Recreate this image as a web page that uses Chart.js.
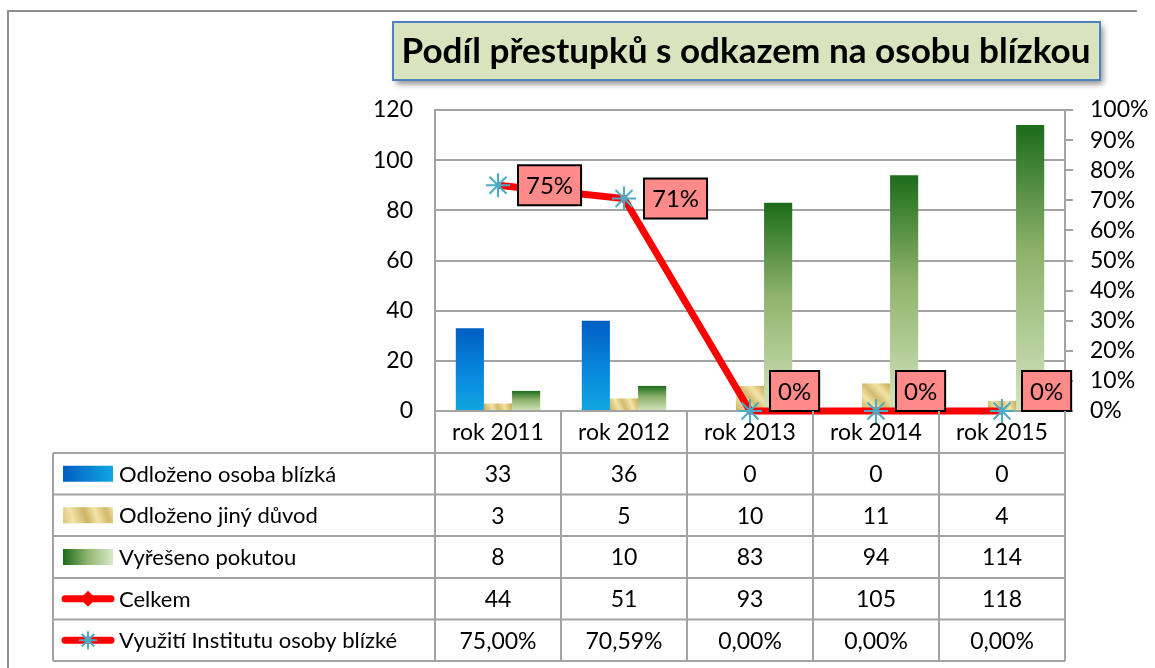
<!DOCTYPE html>
<html lang="cs">
<head>
    <meta charset="UTF-8">
    <title>Podíl přestupků s odkazem na osobu blízkou</title>
    <style>
        body { margin: 0; background: #fff; }
        #chart-container { width: 1155px; height: 668px; }
    </style>
    <script src="https://cdn.jsdelivr.net/npm/chart.js"></script>
</head>
<body>
    <div id="chart-container">
        <canvas id="chart" width="1155" height="668"></canvas>
    </div>

    <script>
        // Data
        const categories = ['rok 2011', 'rok 2012', 'rok 2013', 'rok 2014', 'rok 2015'];
        const seriesNames = ['Odloženo osoba blízká', 'Odloženo jiný důvod', 'Vyřešeno pokutou', 'Celkem', 'Využití Institutu osoby blízké'];
        const odlozenoOsobaBlizka = [33, 36, 0, 0, 0];
        const odlozenoJinyDuvod = [3, 5, 10, 11, 4];
        const vyresenoPokutou = [8, 10, 83, 94, 114];
        const celkem = [44, 51, 93, 105, 118];
        const vyuzitiInstitutu = [0.75, 0.7059, 0, 0, 0];
        const chartTitle = 'Podíl přestupků s odkazem na osobu blízkou';

        const FONT = 'Lato, "Open Sans", sans-serif';
        const GRID = '#a3a3a3';

        // bar fills, built per bar from the scales
        function barGeom(ctx) {
            const chart = ctx.chart;
            const y = chart.scales.y;
            const top = y.getPixelForValue(ctx.raw || 0);
            const base = y.getPixelForValue(0);
            return { top: Math.min(top, base - 1), base: base };
        }
        function blueFill(ctx) {
            if (!ctx.chart.chartArea) return '#0a7fd6';
            const g = barGeom(ctx);
            const gr = ctx.chart.ctx.createLinearGradient(0, g.top, 0, g.base);
            gr.addColorStop(0, '#005ec2');
            gr.addColorStop(0.5, '#0784dc');
            gr.addColorStop(1, '#12a6e2');
            return gr;
        }
        function greenFill(ctx) {
            if (!ctx.chart.chartArea) return '#7aa85a';
            const g = barGeom(ctx);
            const gr = ctx.chart.ctx.createLinearGradient(0, g.top, 0, g.base);
            gr.addColorStop(0, '#1c6b1c');
            gr.addColorStop(0.45, '#8fb36c');
            gr.addColorStop(1, '#d2e3bd');
            return gr;
        }
        function tanFill(ctx) {
            if (!ctx.chart.chartArea) return '#ddc77f';
            const g = barGeom(ctx);
            const cx = ctx.chart.scales.x.getPixelForValue(ctx.dataIndex);
            const gr = ctx.chart.ctx.createLinearGradient(cx - 14, g.base, cx + 14, g.top);
            gr.addColorStop(0, '#c8ab5b');
            gr.addColorStop(0.3, '#f2e4a6');
            gr.addColorStop(0.5, '#d3bb70');
            gr.addColorStop(0.72, '#f2e4a6');
            gr.addColorStop(1, '#c6a855');
            return gr;
        }

        // title box
        const titlePlugin = {
            id: 'titleBox',
            beforeDraw(chart) {
                const c = chart.ctx;
                c.save();
                // outer frame
                c.strokeStyle = '#8f8f8f';
                c.lineWidth = 2;
                c.beginPath();
                c.moveTo(8, 668);
                c.lineTo(8, 11);
                c.lineTo(1137, 11);
                c.stroke();

                c.shadowColor = 'rgba(0,0,0,0.45)';
                c.shadowBlur = 6;
                c.shadowOffsetX = 3;
                c.shadowOffsetY = 4;
                c.fillStyle = '#d7e4bd';
                c.fillRect(393, 22, 707, 58);
                c.shadowColor = 'transparent';
                c.strokeStyle = '#4f81bd';
                c.lineWidth = 2;
                c.strokeRect(393, 22, 707, 58);

                c.font = 'bold 30px ' + FONT;
                const w = c.measureText(chartTitle).width;
                const size = 30 * 689 / w;
                c.font = 'bold ' + size.toFixed(1) + 'px ' + FONT;
                c.fillStyle = '#000';
                c.textAlign = 'center';
                c.textBaseline = 'middle';
                c.fillText(chartTitle, 746, 52);
                c.restore();
            }
        };

        // pink value labels next to the line points
        const valueLabels = {
            id: 'valueLabels',
            afterDatasetsDraw(chart) {
                const c = chart.ctx;
                const meta = chart.getDatasetMeta(0);
                const bottom = chart.chartArea.bottom;
                c.save();
                c.font = '24px ' + FONT;
                c.textAlign = 'center';
                c.textBaseline = 'middle';
                meta.data.forEach((pt, i) => {
                    const txt = Math.round(vyuzitiInstitutu[i] * 100) + '%';
                    const w = c.measureText(txt).width + 16;
                    const h = 40;
                    const x = pt.x + 20;
                    const cy = Math.min(pt.y, bottom - h / 2);
                    c.fillStyle = '#ff8a8a';
                    c.fillRect(x, cy - h / 2, w, h);
                    c.strokeStyle = '#000';
                    c.lineWidth = 2;
                    c.strokeRect(x, cy - h / 2, w, h);
                    c.fillStyle = '#000';
                    c.fillText(txt, x + w / 2, cy + 1);
                });
                c.restore();
            }
        };

        // data table under the plot
        const dataTable = {
            id: 'dataTable',
            afterDraw(chart) {
                const c = chart.ctx;
                const area = chart.chartArea;
                const xs = chart.scales.x;
                const n = categories.length;
                const colW = (area.right - area.left) / n;
                const rows = [area.bottom, 453, 494.5, 536, 578, 619.5, 661];
                const tableLeft = 53;
                const values = [odlozenoOsobaBlizka, odlozenoJinyDuvod, vyresenoPokutou, celkem,
                    vyuzitiInstitutu.map(v => (v * 100).toFixed(2).replace('.', ',') + '%')];

                c.save();
                c.strokeStyle = GRID;
                c.lineWidth = 2;
                c.beginPath();
                for (let r = 1; r < rows.length; r++) {
                    c.moveTo(tableLeft, rows[r]);
                    c.lineTo(area.right, rows[r]);
                }
                c.moveTo(tableLeft, rows[1]);
                c.lineTo(tableLeft, rows[rows.length - 1]);
                for (let i = 0; i <= n; i++) {
                    const x = area.left + i * colW;
                    c.moveTo(x, rows[0]);
                    c.lineTo(x, rows[rows.length - 1]);
                }
                c.stroke();

                c.textBaseline = 'middle';
                for (let r = 0; r < values.length; r++) {
                    const cy = (rows[r + 1] + rows[r + 2]) / 2;
                    drawSwatch(c, r, 63, 113, cy);
                    c.fillStyle = '#000';
                    c.font = '23px ' + FONT;
                    c.textAlign = 'center';
                    values[r].forEach((v, i) => {
                        c.fillText(String(v), xs.getPixelForValue(i), cy + 1);
                    });
                    c.textAlign = 'left';
                    c.font = '22px ' + FONT;
                    c.fillText(seriesNames[r], 119, cy + 1);
                }
                c.restore();
            }
        };

        function drawSwatch(c, r, x0, x1, cy) {
            const h = 16;
            if (r < 3) {
                let gr = c.createLinearGradient(x0, 0, x1, 0);
                if (r === 0) {
                    gr.addColorStop(0, '#005ec2'); gr.addColorStop(1, '#12a6e2');
                } else if (r === 1) {
                    gr = c.createLinearGradient(x0, cy + h / 2, x1, cy - h / 2);
                    gr.addColorStop(0, '#d9c37a'); gr.addColorStop(0.2, '#f2e4a6'); gr.addColorStop(0.45, '#cdb466');
                    gr.addColorStop(0.65, '#f2e4a6'); gr.addColorStop(0.85, '#d2b96c'); gr.addColorStop(1, '#efe0a0');
                } else {
                    gr.addColorStop(0, '#1c6b1c'); gr.addColorStop(0.5, '#93b672'); gr.addColorStop(1, '#d9e8c8');
                }
                c.fillStyle = gr;
                c.fillRect(x0, cy - h / 2, x1 - x0, h);
                return;
            }
            c.strokeStyle = '#ff0000';
            c.lineWidth = 7;
            c.lineCap = 'round';
            c.beginPath();
            c.moveTo(x0 + 2, cy);
            c.lineTo(x1 - 2, cy);
            c.stroke();
            c.lineCap = 'butt';
            const mx = (x0 + x1) / 2;
            if (r === 3) {
                c.fillStyle = '#ff0000';
                c.beginPath();
                c.moveTo(mx, cy - 8); c.lineTo(mx + 8, cy); c.lineTo(mx, cy + 8); c.lineTo(mx - 8, cy);
                c.closePath();
                c.fill();
            } else {
                c.strokeStyle = '#4bacc6';
                c.lineWidth = 2;
                c.beginPath();
                const s = 9;
                c.moveTo(mx, cy - s); c.lineTo(mx, cy + s);
                c.moveTo(mx - s * 0.7, cy - s * 0.7); c.lineTo(mx + s * 0.7, cy + s * 0.7);
                c.moveTo(mx - s * 0.7, cy + s * 0.7); c.lineTo(mx + s * 0.7, cy - s * 0.7);
                c.moveTo(mx - s, cy); c.lineTo(mx + s, cy);
                c.stroke();
            }
            c.strokeStyle = GRID;
        }

        const tickFont = { family: FONT, size: 23 };

        const ctx = document.getElementById('chart').getContext('2d');
        const chart = new Chart(ctx, {
            type: 'bar',
            data: {
                labels: categories,
                datasets: [{
                    type: 'line',
                    label: seriesNames[4],
                    data: vyuzitiInstitutu,
                    yAxisID: 'y1',
                    borderColor: '#ff0000',
                    borderWidth: 7,
                    pointStyle: 'star',
                    pointRadius: 12,
                    pointBorderColor: '#4bacc6',
                    pointBorderWidth: 2,
                    pointBackgroundColor: 'transparent',
                    tension: 0,
                    clip: false,
                    order: 0
                }, {
                    type: 'line',
                    label: seriesNames[3],
                    data: celkem,
                    yAxisID: 'y',
                    borderColor: '#ff0000',
                    borderWidth: 7,
                    pointStyle: 'rectRot',
                    hidden: true,
                    order: 0
                }, {
                    label: seriesNames[0],
                    data: odlozenoOsobaBlizka,
                    backgroundColor: blueFill,
                    order: 1
                }, {
                    label: seriesNames[1],
                    data: odlozenoJinyDuvod,
                    backgroundColor: tanFill,
                    order: 1
                }, {
                    label: seriesNames[2],
                    data: vyresenoPokutou,
                    backgroundColor: greenFill,
                    order: 1
                }]
            },
            options: {
                responsive: false,
                animation: false,
                layout: { padding: { top: 110, bottom: 215, left: 0, right: 0 } },
                datasets: { bar: { categoryPercentage: 0.67, barPercentage: 1 } },
                plugins: {
                    legend: { display: false },
                    tooltip: { enabled: false },
                    title: { display: false }
                },
                scales: {
                    x: {
                        grid: { display: false, drawTicks: false },
                        border: { display: true, color: GRID, width: 2 },
                        ticks: { font: tickFont, color: '#000', padding: 8, maxRotation: 0 },
                        afterFit: s => { s.height = 42; }
                    },
                    y: {
                        position: 'left',
                        min: 0,
                        max: 120,
                        ticks: { stepSize: 20, font: tickFont, color: '#000', padding: 22 },
                        grid: { color: GRID, lineWidth: 2, drawTicks: false },
                        border: { color: GRID, width: 2 },
                        afterFit: s => { s.width = 435; }
                    },
                    y1: {
                        position: 'right',
                        min: 0,
                        max: 1,
                        ticks: {
                            stepSize: 0.1,
                            autoSkip: false,
                            font: tickFont,
                            color: '#000',
                            padding: 17,
                            callback: v => Math.round(v * 100) + '%'
                        },
                        grid: { drawOnChartArea: false, tickLength: 8, color: GRID, lineWidth: 2 },
                        border: { color: GRID, width: 2 },
                        afterFit: s => { s.width = 90; }
                    }
                }
            },
            plugins: [titlePlugin, valueLabels, dataTable]
        });
    </script>
</body>
</html>
